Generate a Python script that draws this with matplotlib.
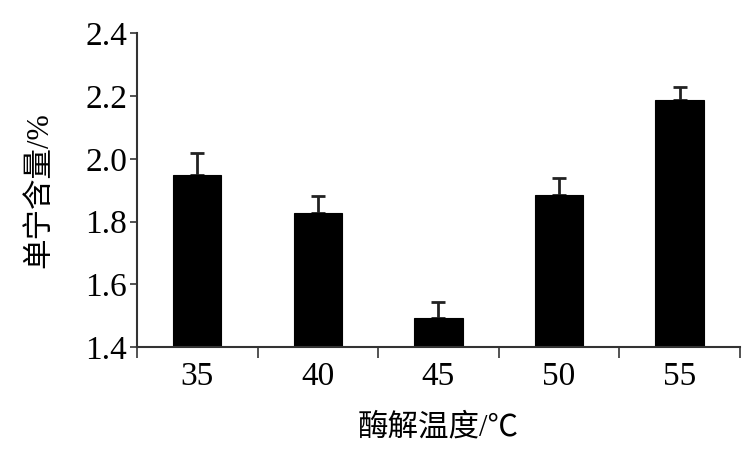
import numpy as np
import matplotlib
matplotlib.use("Agg")
import matplotlib.pyplot as plt

# enzymolysis temperature (°C) vs tannin content (%)
temps = ["35", "40", "45", "50", "55"]
content = [1.948, 1.827, 1.492, 1.884, 2.187]
err_up = [0.070, 0.054, 0.051, 0.054, 0.041]

plt.rcParams['font.family'] = ['Liberation Serif', 'Noto Sans CJK SC']

fig = plt.figure(figsize=(7.47, 4.61), dpi=100)
ax = fig.add_axes([0.1834, 0.247, 0.807, 0.681])

x = np.arange(len(temps))
ax.bar(x, content, width=0.4, color="black", edgecolor="black", linewidth=0.8, zorder=2)
ax.errorbar(x, content, yerr=[np.zeros(len(err_up)), err_up], fmt="none",
            ecolor="#222222", elinewidth=2, capsize=5, capthick=2, zorder=1)

ax.set_xlim(-0.5, len(temps) - 0.5)
ax.set_ylim(1.4, 2.4)
ax.set_yticks(np.arange(1.4, 2.41, 0.2))
ax.set_yticklabels([f"{v:.1f}" for v in np.arange(1.4, 2.41, 0.2)])

# boundary ticks without labels, category labels at centres
ax.set_xticks(np.arange(-0.5, len(temps), 1.0))
ax.set_xticklabels([])
ax.set_xticks(x, minor=True)
ax.set_xticklabels(temps, minor=True)
ax.tick_params(axis="x", which="major", length=8, width=1.3, color="#444444")
ax.tick_params(axis="x", which="minor", length=0, labelsize=24, pad=10)
ax.tick_params(axis="y", length=5, width=1.3, color="#444444", labelsize=24, pad=2)

for side in ["top", "right"]:
    ax.spines[side].set_visible(False)
for side in ["left", "bottom"]:
    ax.spines[side].set_linewidth(1.5)
    ax.spines[side].set_color("#333333")

ax.set_xlabel("酶解温度/℃", fontsize=22, labelpad=16)
ax.set_ylabel("单宁含量/%", fontsize=22, labelpad=22)

fig.savefig("out.png", dpi=100)
